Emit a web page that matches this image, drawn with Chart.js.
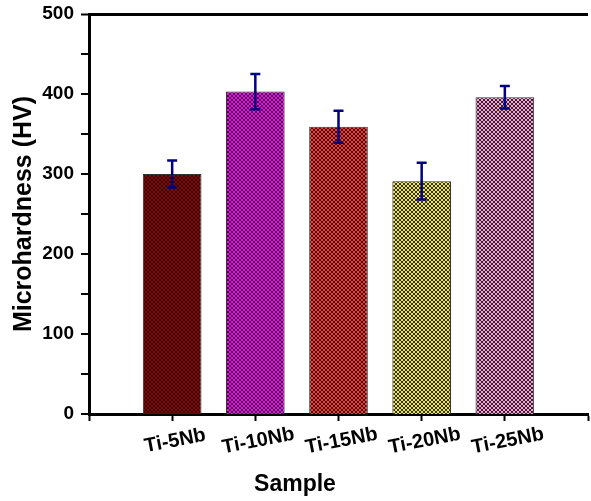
<!DOCTYPE html>
<html>
<head>
<meta charset="utf-8">
<script src="https://cdn.jsdelivr.net/npm/chart.js@4"></script>
<style>html,body{margin:0;background:#fff;}</style>
</head>
<body>
<canvas id="c" width="591" height="501"></canvas>
<script>
// data
const samples = ['Ti-5Nb', 'Ti-10Nb', 'Ti-15Nb', 'Ti-20Nb', 'Ti-25Nb'];
const hardness = [300, 403, 359, 291, 396];
const hardnessErr = [17, 22, 20, 23, 14];
const barColors = ['#9a0000', '#ff00ff', '#ff3535', '#ece550', '#f7a0d6'];
const yTicks = [0, 100, 200, 300, 400, 500];

const canvas = document.getElementById('c');
const ctx = canvas.getContext('2d');
const FONT = '"Liberation Sans", Arial, sans-serif';

// cross-hatch fill like the origin plot
function hatch(color) {
  const t = document.createElement('canvas');
  t.width = t.height = 4;
  const g = t.getContext('2d');
  g.fillStyle = color;
  g.fillRect(0, 0, 4, 4);
  g.fillStyle = 'rgba(0,0,0,0.78)';
  for (let i = 0; i < 4; i++) {
    g.fillRect(i, i, 1, 1);
    if (3 - i !== i) g.fillRect(3 - i, i, 1, 1);
  }
  return ctx.createPattern(t, 'repeat');
}

// one empty slot on each side, so ticks sit at 0..6 like the original axis
const labels = [''].concat(samples, ['']);
const values = [null].concat(hardness, [null]);
const errs = [0].concat(hardnessErr, [0]);
const fills = ['transparent'].concat(barColors.map(hatch), ['transparent']);

const errorBars = {
  id: 'errorBars',
  afterDatasetsDraw(chart) {
    const meta = chart.getDatasetMeta(0);
    const y = chart.scales.y;
    const c = chart.ctx;
    c.save();
    c.strokeStyle = '#000080';
    c.lineWidth = 2.5;
    meta.data.forEach((bar, i) => {
      if (values[i] == null) return;
      const x = bar.x;
      const top = y.getPixelForValue(values[i] + errs[i]);
      const bot = y.getPixelForValue(values[i] - errs[i]);
      c.beginPath();
      c.moveTo(x, top); c.lineTo(x, bot);
      c.moveTo(x - 5, top); c.lineTo(x + 5, top);
      c.moveTo(x - 5, bot); c.lineTo(x + 5, bot);
      c.stroke();
    });
    c.restore();
  }
};

// slanted category names under the ticks, and the x title
const slantLabels = {
  id: 'slantLabels',
  afterDraw(chart) {
    const xs = chart.scales.x;
    const c = chart.ctx;
    c.save();
    c.font = 'bold 20px ' + FONT;
    c.fillStyle = '#000';
    c.textAlign = 'center';
    c.textBaseline = 'middle';
    labels.forEach((lab, i) => {
      if (!lab) return;
      const px = xs.getPixelForTick(i);
      c.save();
      c.translate(px + 3, xs.top + 27);
      c.rotate(-11 * Math.PI / 180);
      c.fillText(lab, 0, 0);
      c.restore();
    });
    c.font = 'bold 23px ' + FONT;
    c.fillText('Sample', 295, 485);
    c.restore();
  }
};

new Chart(canvas, {
  type: 'bar',
  data: {
    labels: labels,
    datasets: [{
      data: values,
      backgroundColor: fills,
      borderColor: '#333',
      borderWidth: 1,
      categoryPercentage: 1,
      barPercentage: 0.705
    }]
  },
  options: {
    responsive: false,
    animation: false,
    devicePixelRatio: 1,
    layout: { padding: { top: 14, right: 3, left: 0, bottom: 0 } },
    plugins: { legend: { display: false }, tooltip: { enabled: false } },
    scales: {
      x: {
        type: 'category',
        offset: false,
        grid: { display: true, offset: false, drawOnChartArea: false, drawTicks: true, tickLength: 7, tickColor: '#000', tickWidth: 2 },
        border: { display: true, color: '#000', width: 3 },
        ticks: { display: false },
        afterFit(s) { s.height = 87; s.paddingLeft = 0; s.paddingRight = 0; }
      },
      y: {
        min: 0, max: 500,
        ticks: {
          stepSize: 50, color: '#000', padding: 7,
          font: { family: FONT, size: 19, weight: 'bold' },
          callback: v => yTicks.includes(v) ? String(v) : ''
        },
        grid: {
          drawOnChartArea: true, drawTicks: true, tickLength: 8,
          color: c => c.tick && c.tick.value === 500 ? '#000' : 'transparent',
          lineWidth: c => c.tick && c.tick.value === 500 ? 3 : 0,
          tickColor: '#000', tickWidth: 2
        },
        border: { display: true, color: '#000', width: 3 },
        title: {
          display: true, text: 'Microhardness (HV)', color: '#000',
          font: { family: FONT, size: 25, weight: 'bold' },
          padding: { top: 9, bottom: 0 }
        },
        afterFit(s) { s.width = 89; s.paddingTop = 0; s.paddingBottom = 0; }
      }
    }
  },
  plugins: [errorBars, slantLabels]
});
</script>
</body>
</html>
